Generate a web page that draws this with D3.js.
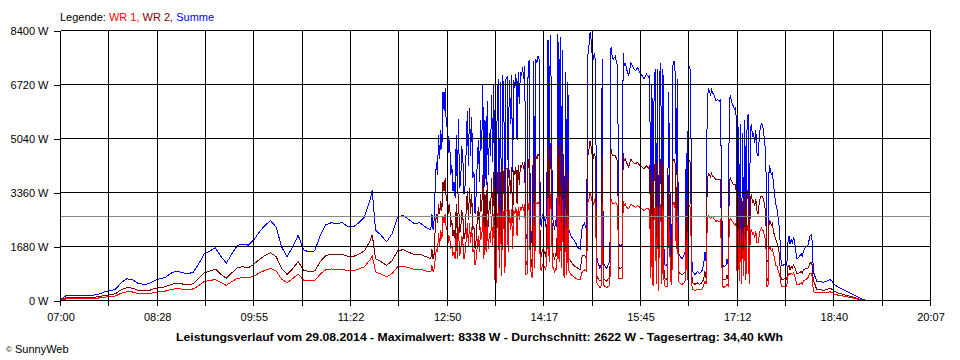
<!DOCTYPE html>
<html><head><meta charset="utf-8">
<script src="https://cdn.jsdelivr.net/npm/d3@7"></script>
<style>body{margin:0;background:#fff}svg{display:block}</style>
</head><body><svg id="chart" width="960" height="360"></svg>
<script>
// minutes after 07:00
const minutes = [
0,5,10,15,20,25,30,35,40,45,
50,55,60,65,70,75,80,85,90,95,
100,105,110,115,120,125,130,135,140,145,
150,155,160,165,170,175,180,185,190,195,
200,205,210,215,220,225,230,235,240,245,
250,255,260,265,270,275,280,282,285,290,
295,300,305,310,315,320,325,330,335,336,
337,338,339,340,341,342,343,344,345,346,
347,348,349,350,351,352,353,354,355,356,
357,358,359,360,361,362,363,364,365,366,
367,368,369,370,371,372,373,374,375,376,
377,378,379,380,381,382,383,384,385,386,
387,388,389,390,391,392,393,394,395,396,
397,398,399,400,401,402,403,404,405,406,
407,408,409,410,411,412,413,414,415,416,
417,418,419,420,421,422,423,424,425,426,
427,428,429,430,431,432,433,434,435,436,
437,438,439,440,441,442,443,444,445,446,
447,448,449,450,451,452,453,454,455,456,
457,458,459,460,462,464,466,468,470,472,
474,476,477,478,479,480,481,482,483,484,
485,486,487,488,489,490,491,492,494,496,
497,498,499,500,502,503,504,505,506,507,
508,509,510,511,512,514,516,518,520,522,
524,526,528,530,532,533,534,535,536,537,
538,539,540,541,542,543,544,545,546,547,
548,549,550,551,552,553,554,555,556,557,
558,559,560,562,564,565,566,567,568,569,
570,571,572,574,576,578,580,581,582,583,
584,585,586,587,588,589,590,591,592,593,
594,596,597,598,599,600,602,603,604,605,
606,607,608,609,610,611,612,613,614,615,
616,617,618,619,620,621,622,623,624,625,
626,627,628,629,630,631,632,633,634,635,
636,637,638,639,640,641,642,643,644,645,
646,647,648,649,650,651,652,654,656,657,
658,659,660,661,662,663,664,666,668,670,
671,672,674,676,678,679,680,681,682,684,
686,688,690,692,694,696,698,700,703,706,
709,712,715,718,721,724,727,728];

const summe = [
30,150,165,160,165,155,170,200,270,300,
360,560,675,650,540,500,520,620,675,725,
850,910,870,830,880,1140,1450,1535,1640,1380,
1160,1450,1710,1760,1720,1890,2140,2340,2480,2290,
1670,1360,1670,2030,1570,1510,1545,2030,2360,2420,
2395,2420,2290,2290,2420,2600,3120,3430,2190,2030,
1825,2080,2600,2650,2520,2395,2420,2290,2190,2700,
2200,2500,3600,4300,3900,5150,4400,5300,4700,6500,
5900,6600,5400,5700,4600,5000,3900,4200,3400,3700,
3200,5150,3300,5650,3500,3700,4800,4400,3300,3600,
4700,5900,4200,6000,4500,5700,3800,4000,2700,3300,
4300,5000,3700,5600,4700,6700,3300,5600,3600,6200,
3900,5200,4500,6400,4300,6700,1700,1400,6200,6900,
2500,6800,1900,7000,6400,2200,6900,6950,3800,6850,
5500,7000,4000,6850,6600,7050,5000,7100,6100,7100,
7000,7250,6900,7300,1900,2000,7400,7450,2600,1900,
1700,7450,2400,7500,7400,7600,7500,2500,2300,2700,
2400,2600,2300,3500,8100,3000,8250,6500,2600,2400,
2200,2500,2300,8300,3000,8200,2500,7800,2100,1800,
7100,2000,6800,2200,2000,1900,1800,1650,1600,2300,
2400,2200,7600,7900,8338,8100,7600,7500,7700,7400,
1400,1200,1100,1000,1100,7500,1200,1100,1000,1150,
1200,7900,7600,7500,7600,7400,7300,1750,1700,1700,
1750,7700,7300,7400,7200,7000,7400,7250,7150,7250,
7100,7000,6900,7050,6950,7000,1700,6700,1100,6800,
7200,1300,7200,700,7000,7400,1300,7200,1200,1100,
1100,1150,6500,4400,1500,1300,7300,7450,7100,3900,
6900,1500,1400,1300,1400,1500,4600,1600,7200,7300,
7100,1300,900,800,900,850,900,1000,1200,1500,
1200,6100,6600,6500,6400,6550,6450,6400,6300,6200,
6250,6200,6250,3400,1100,1050,1100,1300,1100,6250,
6350,6200,6100,6000,5950,6000,2200,5400,1500,5500,
1200,5200,1800,5600,1600,5300,5800,1300,5300,5500,
5100,5200,4900,5300,4600,4500,5000,5400,5500,5450,
5300,4850,4700,1200,1200,4200,4100,3900,4000,3600,
3300,3000,2900,2600,2350,1800,1100,1100,1150,1100,
1800,2000,1750,1900,1800,1950,1850,1300,1350,1450,
1350,1550,1650,1700,2000,2050,1850,900,800,600,
580,580,570,580,620,650,600,500,420,370,
320,270,220,170,110,60,20,0];

const wr2 = [
15,85,95,90,95,90,100,120,160,180,
215,340,400,385,320,300,310,370,400,430,
500,540,515,490,520,680,860,910,980,820,
690,860,1020,1050,1020,1130,1280,1400,1480,1370,
1000,810,990,1210,940,900,920,1210,1400,1440,
1420,1440,1370,1370,1440,1550,1850,2040,1300,1210,
1090,1240,1550,1580,1500,1430,1440,1370,1300,1600,
1300,1450,2300,2700,2400,3000,2700,3100,2800,3700,
3400,3800,3100,3300,2700,3000,2300,2500,2000,2200,
1900,3000,1900,3300,2100,2200,2800,2600,1900,2100,
2800,3400,2500,3500,2700,3300,2200,2300,1600,1900,
2500,2900,2200,3300,2800,3900,1900,3300,2100,3700,
2300,3100,2700,3800,2600,4000,1000,800,3700,4100,
1500,4000,1100,4150,3800,1300,4100,4100,2300,4050,
3300,4150,2400,4050,3900,4150,3000,4200,3600,4200,
4150,4300,4100,4300,1100,1200,4400,4400,1600,1100,
1000,4450,1400,4500,4400,4550,4500,1500,1350,1600,
1400,1550,1350,2100,4800,1800,4900,3800,1550,1400,
1300,1450,1400,4950,1800,4900,1450,4600,1200,1100,
4200,1200,4000,1300,1200,1100,1050,1000,950,1400,
1400,1300,4500,4700,4950,4800,4500,4450,4600,4400,
800,700,650,600,650,4450,700,650,600,700,
700,4700,4550,4500,4500,4400,4350,1050,1000,1000,
1050,4600,4350,4400,4300,4150,4400,4300,4250,4300,
4200,4150,4100,4200,4100,4200,1000,4000,650,4050,
4300,800,4300,450,4200,4400,800,4300,700,650,
650,700,3900,2600,900,800,4350,4400,4250,2300,
4100,900,850,800,850,900,2700,950,4300,4350,
4250,800,550,500,550,500,550,600,700,900,
700,3700,3950,3900,3850,3950,3850,3850,3800,3750,
3750,3750,3750,2000,650,650,650,800,650,3750,
3800,3700,3650,3600,3600,3600,1300,3200,900,3250,
700,3100,1050,3300,950,3150,3450,800,3150,3300,
3050,3100,2950,3150,2800,2700,3000,3200,3250,3250,
3150,2900,2800,600,650,2500,2450,2350,2400,2150,
2000,1900,1800,1700,1500,1000,650,650,700,650,
1050,1100,950,1050,1000,1100,1050,850,850,900,
850,950,1000,1000,1150,1200,1100,600,550,350,
330,330,320,330,350,380,350,280,240,210,
180,150,120,100,60,35,10,0];

const wr1 = [
10,50,60,60,55,55,60,80,105,120,
145,230,270,265,220,205,210,250,275,295,
345,370,355,340,360,460,590,625,650,560,
470,590,690,710,700,760,860,940,1000,920,
670,550,680,820,630,610,625,820,960,980,
970,980,920,920,980,1050,1270,1390,890,820,
735,840,1050,1070,1020,965,980,920,890,1100,
900,1000,1300,1600,1500,2100,1700,2200,1900,2600,
2400,2700,2200,2300,1800,2000,1600,1700,1400,1500,
1300,2100,1300,2300,1400,1500,2000,1800,1300,1500,
1900,2400,1700,2400,1800,2300,1500,1600,1100,1300,
1700,2000,1500,2300,1900,2700,1300,2300,1500,2500,
1600,2100,1800,2600,1700,2700,650,550,2500,2800,
1000,2750,750,2850,2600,850,2800,2800,1500,2800,
2200,2850,1600,2800,2700,2900,2000,2900,2500,2900,
2850,2950,2800,3000,800,800,3000,3050,1000,800,
700,3000,1000,3050,3000,3050,3000,1000,950,1100,
1000,1050,950,1400,3200,1200,3300,2650,1050,1000,
900,1000,950,3300,1200,3250,1000,3150,850,700,
2850,800,2700,900,800,750,700,650,650,900,
950,900,3050,3150,3350,3250,3050,3000,3100,3000,
550,500,450,400,450,3000,500,450,400,450,
500,3150,3050,3000,3050,3000,2950,700,700,700,
700,3100,2950,3000,2900,2850,3000,2950,2900,2950,
2900,2850,2800,2850,2850,2800,700,2700,450,2750,
2900,500,2900,300,2800,3000,500,2900,500,450,
450,450,2600,1800,600,500,2950,3050,2850,1600,
2800,600,550,500,550,600,1900,650,2900,2950,
2850,500,350,300,350,350,350,400,500,600,
500,2400,2650,2600,2550,2600,2600,2550,2500,2450,
2500,2450,2500,1400,450,400,450,500,450,2500,
2550,2500,2450,2400,2350,2400,900,2200,600,2250,
500,2100,750,2300,650,2150,2350,500,2150,2200,
2050,2100,1950,2150,1800,1800,2000,2200,2250,2200,
2150,1950,1900,450,450,1700,1650,1550,1600,1450,
1300,1100,1100,950,850,700,450,450,450,450,
750,850,800,850,800,850,800,500,500,550,
500,600,650,700,850,850,750,300,250,250,
240,240,240,250,250,270,250,200,170,150,
130,110,90,70,40,20,5,0];

const yTicks = [0, 1680, 3360, 5040, 6720, 8400];
const xTickLabels = ["07:00","08:28","09:55","11:22","12:50","14:17","15:45","17:12","18:40","20:07"];
const spanMinutes = 787;      // 07:00 .. 20:07
const gridSteps = 18;
const averageValue = 2622;
const seriesNames = ["WR 1", "WR 2", "Summe"];
const titleText = "Leistungsverlauf vom 29.08.2014 - Maximalwert: 8338 W - Durchschnitt: 2622 W - Tagesertrag: 34,40 kWh";

const colors = {"WR 1": "#ff0000", "WR 2": "#800000", "Summe": "#0000ff"};
const FONT = "'Liberation Sans', Arial, sans-serif";

const svg = d3.select("#chart");
svg.append("rect").attr("width", 960).attr("height", 360).attr("fill", "#fff");

const x = d3.scaleLinear().domain([0, spanMinutes]).range([60.5, 930.5]);
const y = d3.scaleLinear().domain([0, 8400]).range([300.5, 30.5]);
const px = v => Math.floor(v) + 0.5;

const gridTicks = d3.range(gridSteps + 1).map(i => i * spanMinutes / gridSteps);

// data lines
const seriesData = {"WR 1": wr1, "WR 2": wr2, "Summe": summe};
const line = d3.line().x(d => x(d[0])).y(d => y(d[1]));
["Summe", "WR 2", "WR 1"].forEach(name => {
  const vals = seriesData[name];
  const pts = minutes.map((m, i) => [m, vals[i]]);
  svg.append("path").datum(pts)
    .attr("d", line)
    .attr("fill", "none")
    .attr("stroke", colors[name])
    .attr("stroke-width", 1)
    .attr("shape-rendering", "crispEdges");
});

// average line
svg.append("line")
  .attr("x1", x(0)).attr("x2", x(spanMinutes))
  .attr("y1", px(y(averageValue))).attr("y2", px(y(averageValue)))
  .attr("stroke", "#888888").attr("shape-rendering", "crispEdges");

// grid
const grid = svg.append("g").attr("stroke", "#000").attr("shape-rendering", "crispEdges");
grid.selectAll(".h").data(yTicks).join("line")
  .attr("x1", x(0)).attr("x2", x(spanMinutes))
  .attr("y1", d => px(y(d))).attr("y2", d => px(y(d)));
grid.selectAll(".v").data(gridTicks).join("line")
  .attr("x1", d => px(x(d))).attr("x2", d => px(x(d)))
  .attr("y1", y(8400)).attr("y2", y(0) + 5);

// y axis (ticks + labels)
const yAxis = d3.axisLeft(y).tickValues(yTicks).tickSize(7).tickPadding(5)
  .tickFormat(d => d + " W");
const gy = svg.append("g").attr("transform", "translate(60.5,0)").call(yAxis);
gy.select(".domain").remove();
gy.selectAll("line").attr("stroke", "#000").attr("shape-rendering", "crispEdges")
  .attr("transform", d => `translate(0,${px(y(d)) - y(d)})`);
gy.selectAll("text").attr("font-family", FONT).attr("font-size", 11).attr("fill", "#000");

// x axis labels
const labelTicks = gridTicks.filter((d, i) => i % 2 === 0);
const xAxis = d3.axisBottom(x).tickValues(labelTicks).tickSize(0).tickPadding(13)
  .tickFormat((d, i) => xTickLabels[i]);
const gx = svg.append("g").attr("transform", "translate(0,300.5)").call(xAxis);
gx.select(".domain").remove();
gx.selectAll("text").attr("font-family", FONT).attr("font-size", 11).attr("fill", "#000");

// legend
const leg = svg.append("text").attr("x", 60).attr("y", 21)
  .attr("font-family", FONT).attr("font-size", 11);
leg.append("tspan").attr("fill", "#000").text("Legende: ");
seriesNames.forEach((n, i) => {
  leg.append("tspan").attr("fill", colors[n]).text(n + (i < seriesNames.length - 1 ? ", " : ""));
});

// title
svg.append("text").attr("x", 176).attr("y", 341)
  .attr("font-family", FONT).attr("font-size", 11.5).attr("font-weight", "bold")
  .attr("textLength", 607).attr("lengthAdjust", "spacingAndGlyphs")
  .text(titleText);

// copyright
const cp = svg.append("text").attr("x", 6).attr("y", 353)
  .attr("font-family", FONT).attr("font-size", 11).attr("fill", "#000");
cp.append("tspan").attr("font-size", 8).attr("dy", -1).text("©");
cp.append("tspan").attr("dy", 1).text(" SunnyWeb");
</script>
</body></html>
